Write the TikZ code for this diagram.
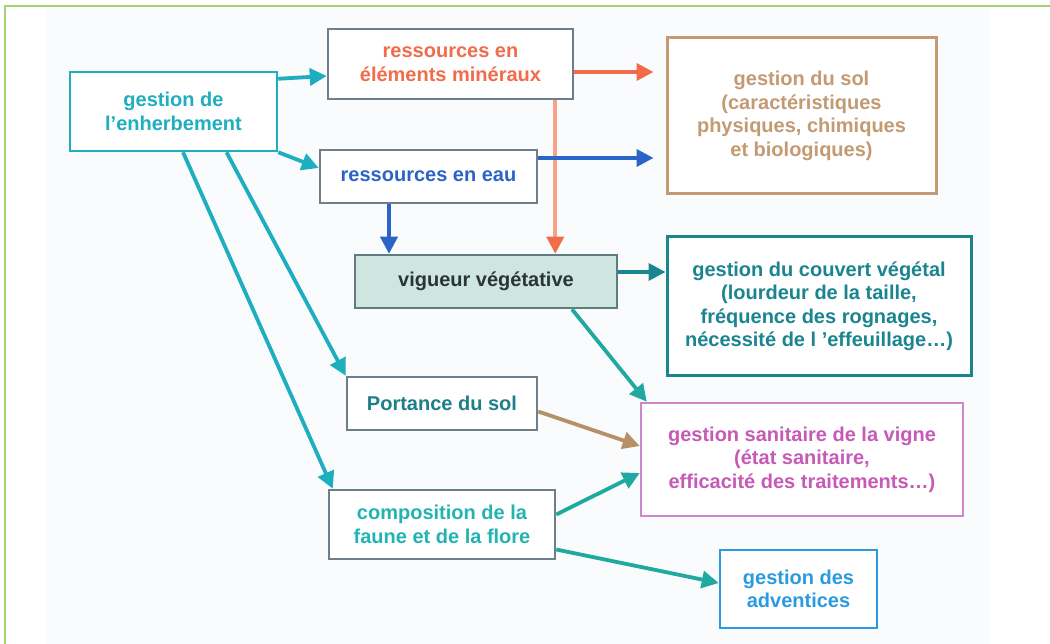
\documentclass[tikz,border=0pt]{standalone}
\usepackage{fontspec}
\setmainfont{Liberation Sans}
\usepackage{xcolor}
\usepackage{tikz}
\usetikzlibrary{arrows.meta, positioning}

\definecolor{framegreen}{HTML}{A3D36A}
\definecolor{pagebg}{HTML}{FAFBFD}
\definecolor{boxgray}{HTML}{6E7F8C}
\definecolor{enhcyan}{HTML}{1EAEC0}
\definecolor{minorange}{HTML}{F26B4A}
\definecolor{minsalmon}{HTML}{F5A486}
\definecolor{eaublue}{HTML}{2A64C6}
\definecolor{solbrown}{HTML}{C49A72}
\definecolor{vigfill}{HTML}{CFE5DF}
\definecolor{vigdraw}{HTML}{5F7C80}
\definecolor{vigtext}{HTML}{2B3535}
\definecolor{couvteal}{HTML}{1A8590}
\definecolor{portteal}{HTML}{1F7F88}
\definecolor{fauncyan}{HTML}{22B3B3}
\definecolor{arrteal}{HTML}{1FA9A0}
\definecolor{portbrown}{HTML}{B89068}
\definecolor{sanipink}{HTML}{CE86CC}
\definecolor{sanitext}{HTML}{C65AB6}
\definecolor{advblue}{HTML}{2A9BE0}

\begin{document}
\begin{tikzpicture}[
    x=1pt, y=-1pt,
    box/.style = {rectangle, draw=boxgray, fill=white, line width=2.5pt, inner sep=0pt, align=center, font=\fontsize{20}{23.5}\selectfont\bfseries},
    arrow/.style = {line width=3.8pt, -{Triangle[length=17pt, width=17pt]}}
]
\useasboundingbox (0,0) rectangle (1050,644);

% Page
\fill[pagebg] (47,8) rectangle (990,644);
\draw[framegreen, line width=2.2pt] (5,644) -- (5,6) -- (1050,6);

% Nodes
\node (enherb) [box, draw=enhcyan, text=enhcyan, minimum width=207pt, minimum height=79pt] at (173.5,111.5) {gestion de\\l'enherbement};
\node (mineraux) [box, text=minorange, minimum width=245pt, minimum height=70pt] at (450.5,64) {ressources en\\éléments minéraux};
\node (eau) [box, text=eaublue, minimum width=217pt, minimum height=53pt] at (428.5,176.5) {ressources en eau};
\node (sol) [box, draw=solbrown, text=solbrown, line width=3pt, minimum width=269pt, minimum height=156pt] at (801.5,116) {gestion du sol\\(caractéristiques\\physiques, chimiques\\et biologiques)};
\node (vigueur) [box, draw=vigdraw, fill=vigfill, text=vigtext, minimum width=262pt, minimum height=53pt] at (486,281.5) {vigueur végétative};
\node (couvert) [box, draw=couvteal, text=couvteal, line width=3pt, minimum width=304pt, minimum height=139pt] at (819,306.5) {gestion du couvert végétal\\(lourdeur de la taille,\\fréquence des rognages,\\nécessité de l 'effeuillage…)};
\node (portance) [box, text=portteal, minimum width=190pt, minimum height=53pt] at (442,403.5) {Portance du sol};
\node (faune) [box, text=fauncyan, minimum width=226pt, minimum height=69pt] at (442,524.5) {composition de la\\faune et de la flore};
\node (sanitaire) [box, draw=sanipink, text=sanitext, minimum width=322pt, minimum height=113pt] at (802,459.5) {gestion sanitaire de la vigne\\(état sanitaire,\\efficacité des traitements…)};
\node (adventices) [box, draw=advblue, text=advblue, minimum width=157pt, minimum height=78pt] at (798.5,589) {gestion des\\adventices};

% Arrows
\draw [arrow, enhcyan] ([yshift=-8pt]enherb.north east) -- ([yshift=-12pt]mineraux.west);
\draw [arrow, enhcyan] (enherb.south east) -- ([yshift=8.5pt]eau.west);
\draw [arrow, enhcyan] ([xshift=53pt]enherb.south) -- (portance.north west);
\draw [arrow, enhcyan] ([xshift=9.5pt]enherb.south) -- ([xshift=5pt]faune.north west);
\draw [arrow, minorange, shorten >=12pt] ([yshift=-8pt]mineraux.east) -- ([yshift=44pt]sol.west);
\draw [line width=3.8pt, minsalmon, -{Triangle[length=17pt, width=17pt, color=minorange]}] ([xshift=-19pt]mineraux.south east) -- ([xshift=-19pt]mineraux.south east |- vigueur.north);
\draw [arrow, eaublue, shorten >=12pt] ([yshift=18.5pt]eau.east) -- ([yshift=-42pt]sol.west);
\draw [arrow, eaublue] ([xshift=-39.5pt]eau.south) -- ([xshift=-39.5pt]eau.south |- vigueur.north);
\draw [arrow, couvteal] ([yshift=9.5pt]vigueur.east) -- ([yshift=9.5pt]vigueur.east -| couvert.west);
\draw [arrow, arrteal] ([xshift=86pt]vigueur.south) -- ([xshift=7pt]sanitaire.north west);
\draw [arrow, portbrown] ([yshift=-8pt]portance.east) -- ([yshift=13.5pt]sanitaire.west);
\draw [arrow, arrteal] ([yshift=10pt]faune.east) -- ([yshift=-13.5pt]sanitaire.west);
\draw [arrow, arrteal] ([yshift=-25pt]faune.east) -- ([yshift=6pt]adventices.west);

\end{tikzpicture}
\end{document}
